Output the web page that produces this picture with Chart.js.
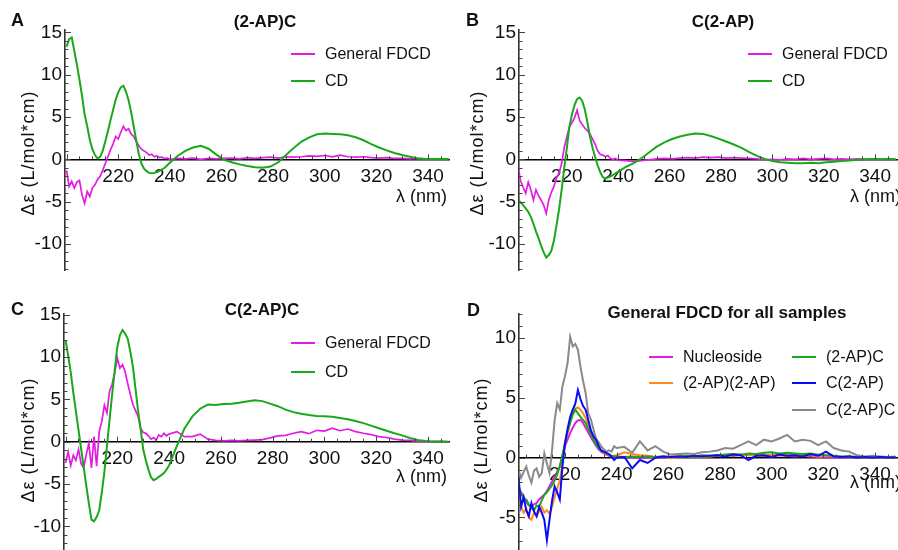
<!doctype html>
<html lang="en">
<head>
<meta charset="utf-8">
<title>FDCD / CD spectra</title>
<script src="https://cdn.jsdelivr.net/npm/chart.js@4.4.1/dist/chart.umd.min.js"></script>
<style>
    html, body { margin: 0; padding: 0; background: #fff; }
    #wrap { position: relative; width: 898px; height: 550px; overflow: hidden; }
    #wrap canvas { position: absolute; }
</style>
</head>
<body>
<div id="wrap">
    <canvas id="pA" width="450" height="275" style="left:0;top:0"></canvas>
    <canvas id="pB" width="449" height="275" style="left:449px;top:0"></canvas>
    <canvas id="pC" width="450" height="275" style="left:0;top:275px"></canvas>
    <canvas id="pD" width="449" height="275" style="left:449px;top:275px"></canvas>
</div>
<script>
// wavelength grid (nm), shared by all series
const wl = [
    200,201,202,203,204,205,206,207,208,209,
    210,211,212,213,214,215,216,217,218,219,
    220,221,222,223,224,225,226,227,228,229,
    230,231,232,233,234,235,236,237,238,239,
    240,243,246,249,252,255,258,261,264,267,
    270,273,276,279,282,285,288,291,294,297,
    300,303,306,309,312,315,318,321,324,327,
    330,333,336,339,342,345,348
];

// A: (2-AP)C
const aCd = [
    13.3,14.2,14.4,12.8,11.2,9.4,7.5,5.3,3.9,2.3,
    1.2,0.5,0.1,0.3,1.0,2.1,3.3,4.6,5.8,7.0,
    7.9,8.5,8.7,8.0,7.0,5.6,3.9,2.2,0.6,-0.5,
    -1.1,-1.4,-1.6,-1.65,-1.6,-1.5,-1.35,-1.2,-1.0,-0.7,
    -0.4,0.4,1.0,1.4,1.6,1.25,0.55,-0.05,-0.35,-0.6,
    -0.8,-0.95,-1.0,-0.85,-0.35,0.5,1.35,2.1,2.6,2.95,
    3.05,3.0,2.95,2.85,2.6,2.25,1.8,1.4,1.05,0.75,
    0.5,0.3,0.1,0.05,0.05,0.05,0.05
];
const aFdcd = [
    -1.3,-3.2,-2.6,-3.4,-2.7,-2.5,-4.2,-5.2,-3.8,-4.4,
    -3.4,-3.0,-2.4,-2.0,-1.3,-0.5,0.3,1.1,1.8,2.7,
    2.4,3.2,3.9,3.4,3.6,3.0,2.7,2.1,1.6,1.2,
    1.0,0.8,0.5,0.6,0.3,0.4,0.2,0.25,0.1,0.15,
    0.0,0.1,0.05,0.15,0.0,0.1,0.05,0.1,0.15,0.05,
    0.2,0.1,0.2,0.25,0.15,0.3,0.25,0.3,0.4,0.35,
    0.45,0.3,0.5,0.3,0.25,0.3,0.2,0.15,0.2,0.1,
    0.1,0.05,0.1,0.05,0.05,0.0,0.05
];

// B: C(2-AP)
const bCd = [
    -4.3,-4.7,-5.1,-5.4,-5.8,-6.2,-6.8,-7.6,-8.5,-9.3,
    -10.2,-11.0,-11.6,-11.3,-10.8,-9.6,-7.8,-5.9,-3.6,-1.0,
    1.3,3.8,5.3,6.4,7.1,7.3,6.9,5.9,4.4,2.7,
    1.4,0.3,-0.7,-1.5,-2.1,-2.25,-2.15,-2.0,-1.85,-1.65,
    -1.45,-0.9,-0.45,0.1,0.8,1.5,2.0,2.4,2.7,2.9,
    3.05,3.0,2.75,2.45,2.1,1.75,1.35,0.85,0.4,0.05,
    -0.2,-0.35,-0.4,-0.45,-0.45,-0.4,-0.45,-0.35,-0.3,-0.2,
    -0.15,-0.05,0.0,0.05,0.0,0.05,0.0
];
const bFdcd = [
    -0.5,-0.9,-2.5,-3.3,-4.0,-2.7,-3.6,-4.8,-3.6,-4.3,
    -4.8,-5.4,-6.4,-4.8,-3.9,-3.2,-2.2,-1.6,-0.5,1.4,
    2.6,3.8,4.3,4.9,5.8,4.6,4.1,3.7,3.4,3.0,
    2.4,1.8,1.0,0.6,0.5,0.3,0.45,0.1,0.0,0.1,
    -0.1,-0.15,-0.25,-0.15,-0.05,0.05,0.1,0.05,0.15,0.2,
    0.15,0.25,0.2,0.25,0.15,0.2,0.15,0.1,0.05,-0.05,
    0.0,-0.05,0.05,0.0,0.1,0.0,0.05,0.1,0.0,0.05,
    0.0,0.05,0.0,0.05,0.0,0.05,0.0
];

// C: C(2-AP)C
const cCd = [
    12.0,10.2,8.2,5.8,3.6,1.4,-0.8,-3.0,-5.2,-7.3,
    -9.2,-9.4,-8.9,-8.1,-6.0,-3.6,-0.5,2.6,5.6,8.5,
    11.2,12.6,13.2,12.8,12.2,10.7,8.9,6.3,3.7,1.5,
    -0.9,-2.2,-3.3,-4.2,-4.55,-4.4,-4.15,-3.95,-3.7,-3.3,
    -2.8,-0.5,1.6,3.0,3.9,4.4,4.35,4.45,4.5,4.6,
    4.75,4.9,4.8,4.5,4.2,3.8,3.5,3.3,3.15,3.05,
    3.0,2.95,2.8,2.65,2.45,2.2,1.9,1.6,1.3,1.0,
    0.75,0.45,0.2,0.1,0.0,0.05,0.0
];
const cFdcd = [
    -2.5,-1.2,-2.8,-1.6,-2.2,-0.9,-2.6,-3.1,-1.5,-0.2,
    -3.1,0.6,-2.9,1.2,2.4,4.3,3.4,6.0,6.8,8.2,
    9.9,8.7,9.1,8.3,6.9,5.6,4.4,3.7,3.0,1.6,
    1.1,1.0,0.7,0.3,0.5,0.2,0.8,0.6,1.0,0.7,
    0.9,1.2,0.6,0.6,0.9,0.3,0.15,0.1,0.15,0.1,
    0.15,0.2,0.25,0.45,0.7,0.75,1.0,1.2,0.95,1.35,
    1.25,1.6,1.3,1.5,1.2,1.0,0.85,0.6,0.5,0.3,
    0.2,0.15,0.05,0.0,0.05,0.0,0.0
];

// D: general FDCD, all samples
const dNucleoside = [
    -1.5,-1.9,-2.4,-2.9,-3.3,-3.7,-4.0,-4.1,-3.9,-3.8,
    -3.5,-3.3,-3.1,-2.8,-2.4,-2.0,-1.6,-1.2,-0.75,0.1,
    0.95,1.5,2.05,2.5,2.9,3.1,3.15,2.9,2.5,2.1,
    1.7,1.35,1.0,0.7,0.5,0.35,0.25,0.15,0.1,0.05,
    0.0,0.0,0.05,-0.05,0.0,0.05,0.0,0.05,0.1,0.05,
    0.1,0.15,0.1,0.15,0.2,0.15,0.2,0.25,0.2,0.15,
    0.1,0.2,0.15,0.1,0.15,0.1,0.05,0.0,0.05,0.0,
    0.05,0.0,0.0,0.05,0.0,0.0,0.0
];
const dApAp = [
    -2.0,-2.4,-3.3,-4.1,-4.6,-4.3,-5.0,-5.2,-4.6,-4.9,
    -4.5,-4.1,-4.6,-4.4,-4.7,-4.1,-3.3,-2.6,-1.9,-0.5,
    1.2,2.2,3.0,3.6,4.1,4.2,4.0,3.7,3.3,2.8,
    2.2,1.6,1.2,0.9,0.6,0.4,0.3,0.2,0.1,0.15,
    0.2,0.45,0.3,0.2,0.15,0.05,0.1,-0.05,0.05,0.0,
    0.1,0.05,0.1,0.15,0.2,0.15,0.25,0.2,0.15,0.25,
    0.2,0.3,0.2,0.25,0.15,0.2,0.1,0.15,0.1,0.05,
    0.1,0.05,0.0,0.05,0.0,0.0,0.0
];
const dApC = [
    -1.6,-2.1,-2.6,-3.0,-3.4,-3.5,-3.9,-4.2,-4.4,-4.0,
    -4.1,-3.6,-3.1,-2.9,-2.6,-2.3,-1.9,-1.4,-0.7,0.2,
    1.2,2.1,2.9,3.6,4.0,3.7,3.4,3.15,2.9,2.4,
    2.0,1.5,1.1,0.8,0.6,0.45,0.35,0.25,0.15,0.1,
    0.1,0.05,0.1,0.05,0.1,0.05,0.1,0.05,0.1,0.15,
    0.1,0.2,0.15,0.2,0.25,0.3,0.25,0.35,0.3,0.4,
    0.45,0.35,0.4,0.35,0.3,0.35,0.25,0.2,0.15,0.1,
    0.1,0.05,0.05,0.0,0.05,0.0,0.0
];
const dCAp = [
    -0.8,-1.2,-1.6,-4.1,-3.3,-4.4,-4.9,-3.8,-4.5,-4.9,
    -4.1,-4.6,-5.2,-6.9,-5.2,-3.6,-2.4,-2.9,-3.5,-0.75,
    1.2,2.4,3.4,4.0,4.5,5.65,4.9,4.3,4.0,3.15,
    2.3,1.8,1.5,1.0,0.6,0.5,0.4,0.3,0.1,-0.2,
    0.0,0.05,-0.9,-0.2,-0.45,0.0,0.1,0.05,0.1,0.05,
    0.15,0.1,0.15,0.2,0.1,0.25,0.2,-0.2,0.15,0.2,
    0.05,0.25,0.15,0.2,0.1,0.3,0.15,0.5,0.1,0.05,
    0.1,0.0,0.05,0.0,0.05,0.0,0.0
];
const dCApC = [
    -0.6,-0.9,-1.0,-1.7,-1.2,-0.75,-1.5,-2.1,-1.1,-0.9,
    -1.6,-1.3,0.35,-0.5,-1.3,0.65,3.15,4.55,4.0,5.95,
    6.8,7.9,10.1,9.3,9.5,9.0,7.6,6.4,5.4,3.7,
    3.2,2.4,1.6,1.3,0.95,0.7,0.5,0.6,0.5,0.95,
    0.8,0.9,0.4,1.35,0.6,0.95,0.5,0.25,0.3,0.35,
    0.3,0.45,0.5,0.6,0.8,0.75,1.05,1.35,1.05,1.5,
    1.35,1.6,1.9,1.35,1.5,1.4,1.05,1.35,0.8,0.6,
    0.5,0.2,0.1,0.15,0.1,0.05,0.1
];

// tick labels
const xTicks = [220, 240, 260, 280, 300, 320, 340];
const yTicksABC = [-10, -5, 0, 5, 10, 15];
const yTicksD = [-5, 0, 5, 10];

const FONT = '"Liberation Sans", Arial, Helvetica, sans-serif';
const MAGENTA = '#e31ce3', GREEN = '#1aa81a', ORANGE = '#ff8a1f', BLUE = '#0b0bf5', GRAY = '#8a8a8a';

Chart.defaults.font.family = FONT;
Chart.defaults.color = '#111';

// axis decorations, titles and legend drawn on top of the chart
const decor = {
    id: 'decor',
    afterDraw(chart, args, o) {
        const ctx = chart.ctx, xs = chart.scales.x, ys = chart.scales.y;
        const area = chart.chartArea, y0 = ys.getPixelForValue(0);
        ctx.save();
        ctx.strokeStyle = '#444';
        ctx.lineWidth = 1;
        ctx.beginPath();
        for (let v = Math.ceil(ys.min); v <= ys.max; v++) {
            const py = Math.round(ys.getPixelForValue(v)) + 0.5;
            ctx.moveTo(area.left, py);
            ctx.lineTo(area.left + (v % 5 === 0 ? 6 : 3.5), py);
        }
        for (let v = Math.ceil(xs.min / 5) * 5; v <= xs.max; v += 5) {
            const px = Math.round(xs.getPixelForValue(v)) + 0.5;
            ctx.moveTo(px, y0);
            ctx.lineTo(px, y0 - (v % 20 === 0 ? 5 : 3));
        }
        ctx.stroke();

        ctx.fillStyle = '#111';
        ctx.textBaseline = 'middle';
        ctx.font = 'bold 18px ' + FONT;
        ctx.textAlign = 'left';
        ctx.fillText(o.letter, o.letterX, o.letterY);
        ctx.font = 'bold 17px ' + FONT;
        ctx.textAlign = 'center';
        ctx.fillText(o.title, o.titleX, o.titleY);

        ctx.font = '18px ' + FONT;
        ctx.textAlign = o.xTitleAlign;
        ctx.fillText('\u03bb (nm)', o.xTitleX, o.xTitleY);

        ctx.save();
        ctx.translate(o.yTitleX, o.yTitleY);
        ctx.rotate(-Math.PI / 2);
        ctx.textAlign = 'center';
        ctx.letterSpacing = '1px';
        ctx.fillText('\u0394\u03b5 (L/mol*cm)', 0, 0);
        ctx.restore();

        ctx.font = '16px ' + FONT;
        ctx.textAlign = 'left';
        ctx.lineWidth = 2;
        o.legend.forEach(item => {
            ctx.strokeStyle = item.color;
            ctx.beginPath();
            ctx.moveTo(item.x, item.y);
            ctx.lineTo(item.x + 24, item.y);
            ctx.stroke();
            ctx.fillText(item.label, item.x + 34, item.y + 1);
        });
        ctx.restore();
    }
};

function makePanel(id, p) {
    return new Chart(document.getElementById(id), {
        type: 'line',
        data: {
            datasets: p.series.map(s => ({
                label: s.label,
                data: s.values.map((v, i) => ({x: wl[i], y: v})),
                borderColor: s.color,
                borderWidth: s.width,
                pointRadius: 0,
                tension: 0,
                order: s.order
            }))
        },
        options: {
            responsive: false,
            animation: false,
            events: [],
            layout: {padding: p.padding},
            plugins: {legend: {display: false}, tooltip: {enabled: false}, decor: p.decor},
            scales: {
                x: {
                    type: 'linear',
                    min: p.xMin,
                    max: p.xMax,
                    position: {y: 0},
                    grid: {display: false, drawTicks: false},
                    border: {color: '#000', width: 1.6},
                    ticks: {font: {size: 19}, color: '#111', padding: 6, autoSkip: false, maxRotation: 0},
                    afterBuildTicks: s => { s.ticks = xTicks.map(v => ({value: v})); },
                    // the zero-line axis sits inside the plot, keep it out of the layout
                    afterFit: s => {
                        s.height = 0;
                        s.paddingLeft = s.paddingRight = s.paddingTop = s.paddingBottom = 0;
                    }
                },
                y: {
                    type: 'linear',
                    min: p.yMin,
                    max: p.yMax,
                    grid: {display: false, drawTicks: false},
                    border: {color: '#333', width: 1.6},
                    ticks: {font: {size: 19}, color: '#111', padding: 3},
                    afterBuildTicks: s => { s.ticks = p.yTicks.map(v => ({value: v})); },
                    afterFit: s => {
                        s.width = p.axisLeft;
                        s.paddingTop = s.paddingBottom = 0;
                    }
                }
            }
        },
        plugins: [decor]
    });
}

makePanel('pA', {
    xMin: 199.4, xMax: 348.5, yMin: -13.07, yMax: 15.27, yTicks: yTicksABC,
    axisLeft: 65, padding: {left: 0, top: 30, right: 0, bottom: 5},
    series: [
        {label: 'General FDCD', values: aFdcd, color: MAGENTA, width: 1.7, order: 1},
        {label: 'CD', values: aCd, color: GREEN, width: 2, order: 0}
    ],
    decor: {
        letter: 'A', letterX: 11, letterY: 21, title: '(2-AP)C', titleX: 265, titleY: 22,
        xTitleX: 447, xTitleY: 197, xTitleAlign: 'right', yTitleX: 29, yTitleY: 153,
        legend: [
            {label: 'General FDCD', color: MAGENTA, x: 291, y: 54},
            {label: 'CD', color: GREEN, x: 291, y: 81}
        ]
    }
});

makePanel('pB', {
    xMin: 201.4, xMax: 348.9, yMin: -13.07, yMax: 15.27, yTicks: yTicksABC,
    axisLeft: 70, padding: {left: 0, top: 30, right: 0, bottom: 5},
    series: [
        {label: 'General FDCD', values: bFdcd, color: MAGENTA, width: 1.7, order: 1},
        {label: 'CD', values: bCd, color: GREEN, width: 2, order: 0}
    ],
    decor: {
        letter: 'B', letterX: 17, letterY: 21, title: 'C(2-AP)', titleX: 274, titleY: 22,
        xTitleX: 401, xTitleY: 197, xTitleAlign: 'left', yTitleX: 29, yTitleY: 153,
        legend: [
            {label: 'General FDCD', color: MAGENTA, x: 299, y: 54},
            {label: 'CD', color: GREEN, x: 299, y: 81}
        ]
    }
});

makePanel('pC', {
    xMin: 199.4, xMax: 348.5, yMin: -12.8, yMax: 15.1, yTicks: yTicksABC,
    axisLeft: 64, padding: {left: 0, top: 39, right: 0, bottom: 0},
    series: [
        {label: 'General FDCD', values: cFdcd, color: MAGENTA, width: 1.7, order: 1},
        {label: 'CD', values: cCd, color: GREEN, width: 2, order: 0}
    ],
    decor: {
        letter: 'C', letterX: 11, letterY: 35, title: 'C(2-AP)C', titleX: 262, titleY: 35,
        xTitleX: 447, xTitleY: 202, xTitleAlign: 'right', yTitleX: 29, yTitleY: 165,
        legend: [
            {label: 'General FDCD', color: MAGENTA, x: 291, y: 68},
            {label: 'CD', color: GREEN, x: 291, y: 97}
        ]
    }
});

makePanel('pD', {
    xMin: 202.2, xMax: 348.9, yMin: -7.72, yMax: 12.0, yTicks: yTicksD,
    axisLeft: 70, padding: {left: 0, top: 39, right: 0, bottom: 0},
    series: [
        {label: 'C(2-AP)C', values: dCApC, color: GRAY, width: 2, order: 4},
        {label: 'Nucleoside', values: dNucleoside, color: MAGENTA, width: 2, order: 3},
        {label: '(2-AP)(2-AP)', values: dApAp, color: ORANGE, width: 2, order: 2},
        {label: '(2-AP)C', values: dApC, color: GREEN, width: 2, order: 1},
        {label: 'C(2-AP)', values: dCAp, color: BLUE, width: 2, order: 0}
    ],
    decor: {
        letter: 'D', letterX: 18, letterY: 36, title: 'General FDCD for all samples', titleX: 278, titleY: 38,
        xTitleX: 401, xTitleY: 208, xTitleAlign: 'left', yTitleX: 33, yTitleY: 165,
        legend: [
            {label: 'Nucleoside', color: MAGENTA, x: 200, y: 82},
            {label: '(2-AP)(2-AP)', color: ORANGE, x: 200, y: 108},
            {label: '(2-AP)C', color: GREEN, x: 343, y: 82},
            {label: 'C(2-AP)', color: BLUE, x: 343, y: 108},
            {label: 'C(2-AP)C', color: GRAY, x: 343, y: 135}
        ]
    }
});
</script>
</body>
</html>
